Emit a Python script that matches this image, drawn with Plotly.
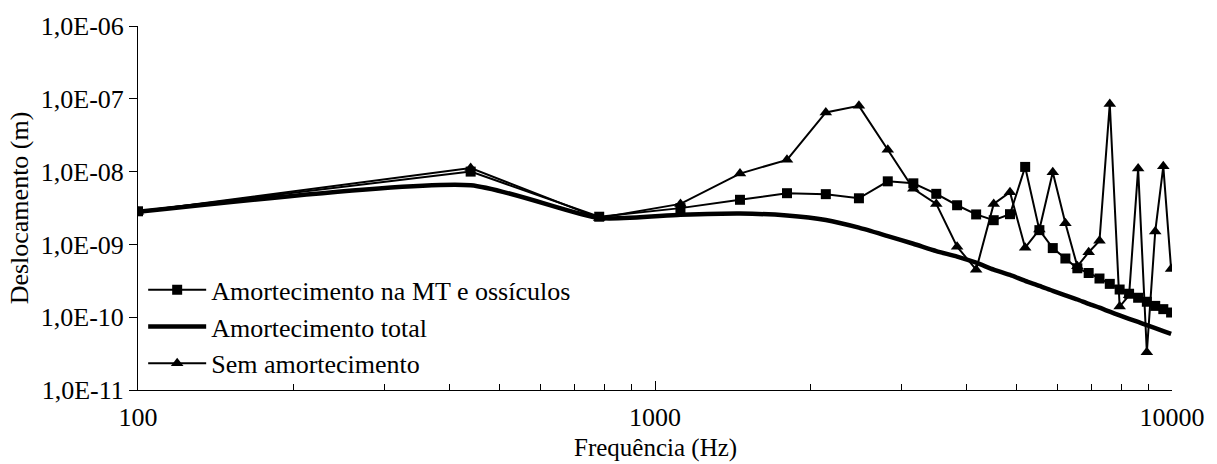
import plotly.graph_objects as go

# Frequency samples (Hz)
freq = [100, 440, 780, 1120, 1460, 1800, 2140, 2480, 2820, 3160,
        3500, 3840, 4180, 4520, 4860, 5200, 5540, 5880, 6220, 6560,
        6900, 7240, 7580, 7920, 8260, 8600, 8940, 9280, 9620, 9960]

# Displacement (m) for each damping configuration
desl_mt_ossiculos = [2.85e-9, 1.0e-8, 2.4e-9, 3.15e-9, 4.1e-9, 5.05e-9, 4.9e-9, 4.3e-9, 7.35e-9, 6.9e-9,
                     4.95e-9, 3.45e-9, 2.58e-9, 2.15e-9, 2.6e-9, 1.16e-8, 1.57e-9, 8.9e-10, 6.4e-10, 4.7e-10,
                     4.05e-10, 3.4e-10, 2.87e-10, 2.4e-10, 2.1e-10, 1.85e-10, 1.63e-10, 1.43e-10, 1.29e-10, 1.16e-10]

desl_total = [2.8e-9, 6.5e-9, 2.3e-9, 2.55e-9, 2.65e-9, 2.5e-9, 2.17e-9, 1.7e-9, 1.3e-9, 1.02e-9,
              8.1e-10, 6.8e-10, 5.6e-10, 4.5e-10, 3.8e-10, 3.15e-10, 2.7e-10, 2.3e-10, 2.0e-10, 1.75e-10,
              1.52e-10, 1.35e-10, 1.19e-10, 1.06e-10, 9.5e-11, 8.6e-11, 7.8e-11, 7.1e-11, 6.45e-11, 5.9e-11]

desl_sem = [2.8e-9, 1.12e-8, 2.3e-9, 3.6e-9, 9.4e-9, 1.45e-8, 6.5e-8, 8.0e-8, 2.0e-8, 5.8e-9,
            3.6e-9, 9.3e-10, 4.5e-10, 3.6e-9, 5.2e-9, 9.0e-10, 1.6e-9, 9.8e-9, 1.95e-9, 5.0e-10,
            7.8e-10, 1.12e-9, 8.5e-8, 1.4e-10, 2.0e-10, 1.1e-8, 3.3e-11, 1.5e-9, 1.18e-8, 4.6e-10]

series_names = ["Amortecimento na MT e ossículos", "Amortecimento total", "Sem amortecimento"]

x_tickvals = [100, 1000, 10000]
x_ticktext = ["100", "1000", "10000"]
y_tickvals = [1e-11, 1e-10, 1e-9, 1e-8, 1e-7, 1e-6]
y_ticktext = ["1,0E-11", "1,0E-10", "1,0E-09", "1,0E-08", "1,0E-07", "1,0E-06"]

FONT = "Liberation Serif, Times New Roman, serif"

fig = go.Figure()
fig.add_trace(go.Scatter(
    x=freq, y=desl_mt_ossiculos, name=series_names[0], mode="lines+markers",
    line=dict(color="black", width=2),
    marker=dict(symbol="square", size=10, color="black"),
))
fig.add_trace(go.Scatter(
    x=freq, y=desl_total, name=series_names[1], mode="lines",
    line=dict(color="black", width=4.5, shape="spline", smoothing=0.6),
))
fig.add_trace(go.Scatter(
    x=freq, y=desl_sem, name=series_names[2], mode="lines+markers",
    line=dict(color="black", width=2),
    marker=dict(symbol="triangle-up", size=11, color="black"),
))

fig.update_layout(
    width=1217, height=464,
    margin=dict(l=138, r=43, t=22, b=74),
    paper_bgcolor="white", plot_bgcolor="white",
    font=dict(family=FONT, size=26, color="black"),
    showlegend=True,
    legend=dict(
        x=0.005, y=0.34, xanchor="left", yanchor="top",
        bgcolor="rgba(0,0,0,0)", font=dict(family=FONT, size=26),
        itemwidth=58, tracegroupgap=0,
    ),
    annotations=[dict(
        text="Frequência (Hz)", xref="paper", yref="paper",
        x=0.5, y=-0.1605, xanchor="center", yanchor="middle",
        showarrow=False, font=dict(family=FONT, size=25),
    )],
)

fig.update_xaxes(
    type="log", range=[2, 4],
    tickvals=x_tickvals, ticktext=x_ticktext,
    ticks="inside", ticklen=9, tickwidth=1, tickcolor="black",
    ticklabelstandoff=4,
    showline=True, linecolor="black", linewidth=1,
    showgrid=False, zeroline=False,
    minor=dict(ticks="inside", ticklen=6, tickcolor="black", dtick="D1", showgrid=False),
    tickfont=dict(family=FONT, size=26),
)
fig.update_yaxes(
    type="log", range=[-11, -6],
    tickvals=y_tickvals, ticktext=y_ticktext,
    ticks="outside", ticklen=8, tickwidth=1, tickcolor="black",
    showline=True, linecolor="black", linewidth=1,
    showgrid=False, zeroline=False,
    tickfont=dict(family=FONT, size=26),
    title=dict(text="Deslocamento (m)", font=dict(family=FONT, size=26), standoff=4),
)

fig.write_html("out.html")
